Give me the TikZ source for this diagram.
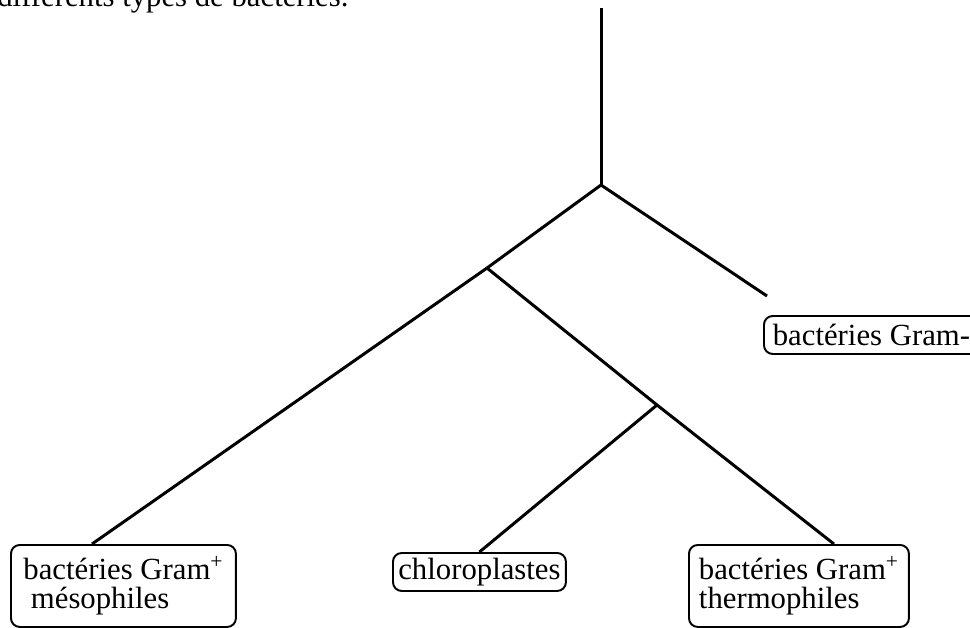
\documentclass[tikz,border=0pt]{standalone}
\usepackage{fontspec}
\setmainfont{Liberation Serif}
\usetikzlibrary{positioning}

\begin{document}
\begin{tikzpicture}[
  x=0.02cm, y=-0.02cm,
  taxon/.style={draw=black, line width=1.1pt, rounded corners=5pt, inner xsep=0.1cm, inner ysep=2pt, align=left, anchor=north west, font=\fontsize{17.5}{16.5}\selectfont},
  branch/.style={line width=1.7pt, black}
]
\useasboundingbox (0,0) rectangle (970,627);

% text of the page above the tree
\node[anchor=base west, inner sep=0pt, font=\fontsize{17.5}{16.5}\selectfont] (caption) at (-3,6) {différents types de bactéries.};

% leaves
\node[taxon, minimum width=4.5cm, minimum height=1.64cm] (meso) at (10,544) {bactéries Gram\textsuperscript{+}\\\hspace*{0.15cm}mésophiles};
\node[taxon, minimum width=3.46cm, minimum height=0.76cm] (chloro) at (392,552) {chloroplastes};
\node[taxon, minimum width=4.4cm, minimum height=1.64cm] (thermo) at (688,544) {bactéries Gram\textsuperscript{+}\\thermophiles};
\node[taxon, minimum width=4.3cm, minimum height=0.76cm] (gramneg) at (763,315) {bactéries Gram-};

% branching points
\coordinate (top) at (601,8);
\coordinate (root) at (601,185);
\coordinate (gramplus) at (487,268);
\coordinate (split) at (657,405);

\draw[branch] (top) -- (root);
\draw[branch] (root) -- (gramplus);
\draw[branch] (root) -- ([xshift=0.08cm,yshift=0.38cm]gramneg.north west);
\draw[branch] (gramplus) -- ([xshift=1.64cm]meso.north west);
\draw[branch] (gramplus) -- (split) -- ([xshift=2.92cm]thermo.north west);
\draw[branch] (split) -- (chloro.north);
\end{tikzpicture}
\end{document}
